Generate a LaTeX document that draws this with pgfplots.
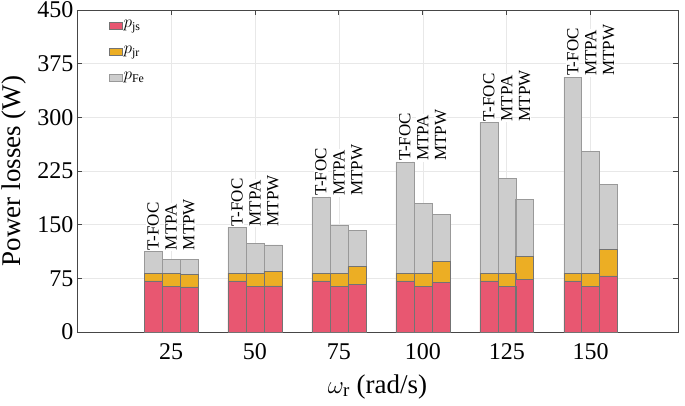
\documentclass[border=0pt]{standalone}
\usepackage{pgfplots}
\usepackage{pgfplotstable}
\pgfplotsset{compat=1.18}
\usepackage{fontspec}
\setmainfont{Liberation Serif}
\definecolor{cjs}{RGB}{232,87,113}
\definecolor{cjr}{RGB}{236,174,36}
\definecolor{cfe}{RGB}{205,205,205}
\definecolor{cgrid}{RGB}{232,232,232}
\definecolor{caxis}{RGB}{70,70,70}

% x: bar position, js/jr/fe: loss components (W), lab: method, top: label base height
\pgfplotstableread{
x      js    jr    fe     lab    top
0.786  71.3  11.1  30.4   T-FOC  112.8
1.000  63.3  19.1  19.2   MTPA   112.8
1.214  63.0  18.0  20.6   MTPW   112.8
1.786  71.3  11.1  63.9   T-FOC  146.3
2.000  63.3  19.1  41.0   MTPA   146.3
2.214  64.3  20.9  36.4   MTPW   146.3
2.786  71.3  11.1  106.3  T-FOC  188.7
3.000  63.3  19.1  66.6   MTPA   188.7
3.214  66.2  25.1  51.2   MTPW   188.7
3.786  71.3  11.1  155.2  T-FOC  237.6
4.000  63.5  18.9  97.0   MTPA   237.6
4.214  69.4  29.4  65.7   MTPW   237.6
4.786  71.3  11.1  210.6  T-FOC  293.0
5.000  63.5  18.9  132.0  MTPA   293.0
5.214  73.6  32.6  78.7   MTPW   293.0
5.786  71.3  11.1  273.9  T-FOC  356.3
6.000  63.5  18.9  170.5  MTPA   356.3
6.214  78.3  36.7  91.3   MTPW   356.3
}\data

\begin{document}
\begin{tikzpicture}
\useasboundingbox (-77pt,-73pt) rectangle (608pt,332pt);
\begin{axis}[
  scale only axis,
  width=601pt, height=322pt,
  ybar stacked,
  bar width=0.2143,
  xmin=-0.12, xmax=7.04,
  ymin=0, ymax=450,
  xtick={1,2,3,4,5,6},
  xticklabels={25,50,75,100,125,150},
  ytick={0,75,150,225,300,375,450},
  /pgf/number format/assume math mode=true,
  tick label style={font=\fontsize{24}{26}\selectfont},
  xticklabel style={yshift=-8pt},
  label style={font=\fontsize{27}{30}\selectfont},
  xlabel={$\omega_{\mathrm{r}}$ (rad/s)},
  xlabel style={at={(axis description cs:0.5,-0.19)}, anchor=base},
  ylabel={Power losses (W)},
  ylabel style={at={(axis description cs:-0.131,0.5)}, anchor=north},
  grid=major,
  major grid style={cgrid, line width=0.6pt},
  axis line style={caxis, line width=0.8pt},
  tick style={caxis, line width=0.8pt},
  tick align=inside,
  major tick length=5pt,
  legend style={at={(0.048,0.98)}, anchor=north west, draw=none, fill=none,
    font=\fontsize{17}{19}\selectfont, row sep=12pt,
    nodes={inner sep=1pt, text height=8pt, text depth=4pt}},
  legend cell align=left,
  legend image code/.code={\draw[#1] (0pt,-3.5pt) rectangle (13pt,3.5pt);},
]
\addplot[fill=cjs, draw=black!55, line width=0.5pt] table[x=x, y=js] {\data};
\addlegendentry{$p_{\mathrm{js}}$}
\addplot[fill=cjr, draw=black!55, line width=0.5pt] table[x=x, y=jr] {\data};
\addlegendentry{$p_{\mathrm{jr}}$}
\addplot[fill=cfe, draw=black!40, line width=0.5pt] table[x=x, y=fe] {\data};
\addlegendentry{$p_{\mathrm{Fe}}$}
\end{axis}
\begin{axis}[
  scale only axis,
  width=601pt, height=322pt,
  xmin=-0.12, xmax=7.04,
  ymin=0, ymax=450,
  hide axis,
]
\addplot[draw=none, mark=none,
  point meta=explicit symbolic,
  nodes near coords,
  every node near coord/.append style={rotate=90, anchor=west, fill=white,
     inner sep=1pt, text=black, font=\fontsize{17}{17}\selectfont}
  ] table[x=x, y=top, meta=lab] {\data};
\end{axis}
\end{tikzpicture}
\end{document}
